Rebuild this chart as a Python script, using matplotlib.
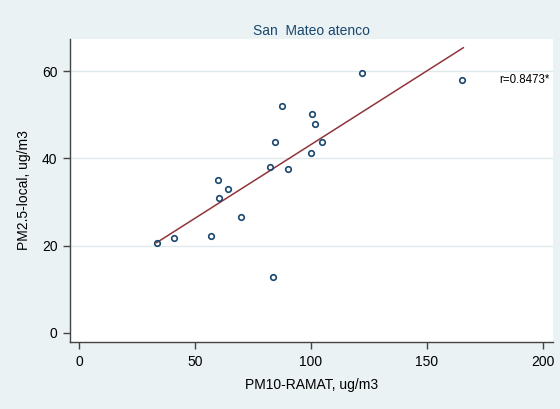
import numpy as np
import matplotlib.pyplot as plt

plt.rcParams['font.family'] = ['Liberation Sans', 'DejaVu Sans']

# datos
pm10 = [33.5, 40.9, 57.0, 60.1, 60.3, 64.2, 69.7, 82.6, 83.6, 84.5,
        87.5, 90.1, 99.9, 100.4, 102.0, 104.7, 122.3, 165.4]
pm25 = [20.7, 21.8, 22.3, 35.0, 31.0, 33.1, 26.6, 38.1, 12.7, 43.7,
        52.0, 37.5, 41.3, 50.1, 48.0, 43.7, 59.5, 58.1]
fit_x = [33.5, 165.8]
fit_y = [20.7, 65.4]
xticks = [0, 50, 100, 150, 200]
yticks = [0, 20, 40, 60]

bg = '#eaf2f3'
navy = '#1a476f'

fig = plt.figure(figsize=(5.6, 4.09), dpi=100, facecolor=bg)
ax = fig.add_axes([0.125, 0.1638, 0.8625, 0.7408])
ax.set_facecolor('white')

for yv in yticks[1:]:
    ax.axhline(yv, color='#dfe9ec', lw=1, zorder=0)

ax.plot(pm10, pm25, 'o', mfc='none', mec=navy, ms=4, mew=1.2, zorder=3)
ax.plot(fit_x, fit_y, color='#90353b', lw=1.1, zorder=2)

ax.set_xlim(-3.9, 204.5)
ax.set_ylim(-2.1, 67.4)
ax.set_xticks(xticks)
ax.set_yticks(yticks)
ax.tick_params(direction='out', length=5, width=1, color='#444444', labelsize=10, pad=4)

for s in ['top', 'right']:
    ax.spines[s].set_visible(False)
for s in ['left', 'bottom']:
    ax.spines[s].set_color('#444444')
    ax.spines[s].set_linewidth(1)

ax.text(181.5, 58.1, 'r=0.8473*', fontsize=8.3, va='center', ha='left')

ax.set_title('San  Mateo atenco', fontsize=10, color=navy, pad=3)
ax.set_xlabel('PM10-RAMAT, ug/m3', fontsize=10, labelpad=7)
ax.set_ylabel('PM2.5-local, ug/m3', fontsize=10, labelpad=8)

fig.savefig('out.png', dpi=100, facecolor=bg)
